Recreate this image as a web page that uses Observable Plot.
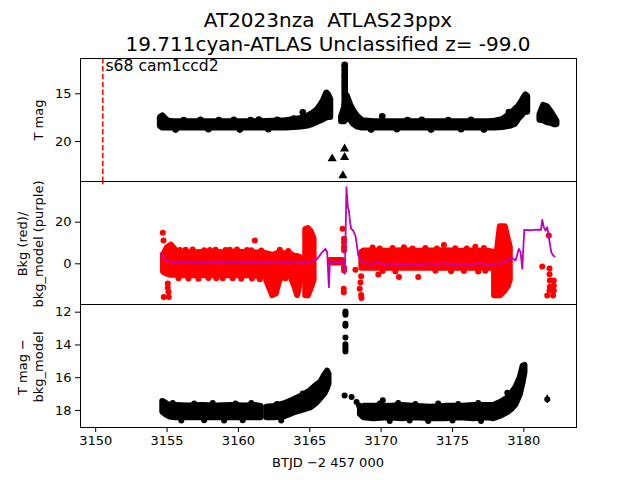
<!DOCTYPE html>
<html><head><meta charset="utf-8">
<script src="https://cdn.jsdelivr.net/npm/d3@7"></script>
<script src="https://cdn.jsdelivr.net/npm/@observablehq/plot@0.6"></script>
<style>
body{margin:0;background:#fff;}
#fig{position:relative;width:640px;height:480px;font-family:"DejaVu Sans",sans-serif;color:#000;overflow:hidden;background:#fff}
.pl{position:absolute;left:0}
.lab{position:absolute;white-space:pre;font-size:13px;line-height:15.6px;text-align:center;transform:translate(-50%,-50%) rotate(-90deg)}
#fig svg g[aria-label$="tick label"], #fig svg g[aria-label$="tick label"] text{font-size:13px !important;font-family:"DejaVu Sans",sans-serif}
</style></head><body>
<div id="fig">
<div style="position:absolute;left:0;width:656px;top:8px;text-align:center;font-size:20px;line-height:24px;white-space:pre">AT2023nza  ATLAS23ppx
19.711cyan-ATLAS Unclassified z= -99.0</div>
<div class="lab" style="left:38.5px;top:119.5px">T mag</div>
<div class="lab" style="left:30.7px;top:244px">Bkg (red)/
bkg_model (purple)</div>
<div class="lab" style="left:30.7px;top:367px">T mag −
bkg_model</div>
<div style="position:absolute;left:0;width:656px;top:454.7px;text-align:center;font-size:13px;line-height:15.6px;white-space:pre">BTJD −2 457 000</div>
<div id="p1" class="pl" style="top:48px"></div>
<div id="p2" class="pl" style="top:171px"></div>
<div id="p3" class="pl" style="top:294px"></div>
</div>
<script>
// ---------- data: top panel (T mag) ----------
const magA_x  = [3154.55,3154.7,3154.85,3155.1,3155.5,3156.5,3157.5,3158.5,3159.5,3160.5,3161.5,3162.5,3163.3,3163.9,3164.4,3164.85,3165.2,3165.55,3165.8,3166.0,3166.2,3166.3,3166.45];
const magA_hi = [17.5,17.35,17.6,17.9,17.95,17.95,17.95,17.95,17.95,17.95,17.95,17.9,17.85,17.75,17.6,17.4,17.1,16.7,16.2,15.65,14.95,15.1,15.6];
const magA_lo = [18.4,18.55,18.55,18.55,18.55,18.55,18.55,18.55,18.55,18.55,18.55,18.55,18.55,18.5,18.45,18.35,18.2,17.95,17.8,17.65,17.5,17.45,17.45];
const magB_x  = [3167.25,3167.45,3167.6,3167.85,3168.1,3168.35,3168.7,3169.5,3170.5,3171.5,3172.5,3173.5,3174.5,3175.5,3176.5,3177.5,3178.0,3178.5,3179.1,3179.4,3179.65,3179.85,3180.0,3180.15,3180.25];
const magB_hi = [17.4,16.5,15.2,16.2,16.9,17.4,17.85,17.95,17.95,17.95,17.95,17.95,17.95,17.95,17.95,17.95,17.9,17.75,17.1,16.7,16.35,15.9,15.5,15.15,15.3];
const magB_lo = [17.9,17.9,17.4,17.7,18.2,18.45,18.55,18.55,18.55,18.55,18.55,18.55,18.55,18.55,18.55,18.55,18.55,18.5,18.35,18.15,17.6,17.3,17.0,16.9,16.9];
const magC_x  = [3181.15,3181.4,3181.65,3181.9,3182.15,3182.3];
const magC_hi = [17.2,16.25,16.4,16.9,17.5,17.9];
const magC_lo = [17.75,17.8,18.0,18.05,18.2,18.2];
const magDot_x = [3167.45,3167.45,3167.45,3167.45,3167.45,3167.45,3167.45,3167.45,3167.45,3167.45,3167.45,3167.45,3167.45,3167.45,3167.45,3167.45,3167.45,3167.45,
  3154.77,3156.17,3157.34,3158.63,3159.68,3160.85,3161.43,3162.72,3163.88,3164.51,3170.08,3171.85,3172.85,3174.7,3176.3,3178.95,
  3155.6,3157.9,3160.1,3162.1,3169.3,3171.1,3173.5,3175.6,3177.2];
const magDot_y = [11.95,12.1,12.4,12.55,12.9,13.1,13.3,13.55,13.8,14.05,14.2,14.5,14.7,14.95,15.2,15.5,15.8,16.1,
  17.7,17.75,17.72,17.75,17.72,17.75,17.7,17.72,17.6,16.93,17.35,17.75,17.72,17.75,17.72,16.9,
  18.75,18.72,18.75,18.72,18.75,18.72,18.75,18.72,18.75];
const limit_x = [3166.57,3167.44,3167.44,3167.32];
const limit_y = [21.8,20.77,21.65,23.57];
const sectorText = "s68 cam1ccd2";
const discoveryDay = 3150.5;

// ---------- data: middle panel (background) ----------
const bkgA_x  = [3154.75,3155.0,3155.3,3155.6,3156.0,3157.0,3158.0,3159.0,3160.0,3161.0,3161.9,3162.15,3162.4,3162.65,3162.9,3163.2,3163.7,3163.95,3164.15,3164.35];
const bkgA_hi = [4.0,7.5,9.0,6.5,5.3,5.3,5.5,5.3,5.5,5.3,5.0,4.5,4.0,4.5,5.5,4.8,4.5,3.5,3.5,3.0];
const bkgA_lo = [-4.0,-5.0,-5.5,-5.5,-5.8,-5.6,-5.8,-5.6,-5.8,-5.8,-6.5,-11.0,-15.3,-14.5,-8.0,-6.0,-6.5,-11.0,-15.3,-9.0];
const bkgS1_x  = [3164.72,3164.9,3165.1,3165.3];
const bkgS1_hi = [16.5,17.0,15.5,12.0];
const bkgS1_lo = [-15.4,-15.4,-12.0,-8.0];
const bkgF_x  = [3166.45,3167.3];
const bkgF_hi = [1.6,1.6];
const bkgF_lo = [0.4,0.4];
const bkgB_x  = [3168.65,3168.8,3169.5,3170.5,3171.5,3172.5,3173.5,3174.5,3175.5,3176.5,3177.5,3177.95];
const bkgB_hi = [5.5,6.2,6.2,6.0,6.3,6.0,6.2,6.3,6.0,6.2,6.0,5.5];
const bkgB_lo = [-2.2,-2.2,-2.2,-2.0,-2.2,-2.0,-2.2,-2.2,-2.0,-2.2,-2.0,-2.2];
const bkgS2_x  = [3177.95,3178.15,3178.35,3178.7,3178.9,3179.05];
const bkgS2_hi = [5.5,6.0,17.8,17.8,12.0,8.0];
const bkgS2_lo = [-15.4,-15.4,-15.4,-13.0,-11.0,-8.0];
const bkgDot_x = [3154.7,3154.75,3154.77,3155.12,3155.05,3155.05,3155.1,3161.15,
  3156.3,3158.0,3159.4,3160.6,3157.2,3158.9,3160.2,
  3167.3,3167.4,3167.4,3167.4,3167.4,3167.4,3167.4,3167.38,3167.38,
  3168.2,3168.5,3168.6,3168.62,3168.55,3168.6,
  3169.4,3171.6,3174.4,3176.6,3169.8,3171.25,3172.6,
  3181.29,3181.75,3181.8,3181.8,3181.82,3181.82,3181.8,3181.64,3182.05,3182.1,3182.1,3182.1,
  3155.9,3156.8,3157.6,3158.4,3159.1,3159.9,3160.9,3161.6,3162.9,3163.5,
  3155.8,3156.5,3157.9,3158.45,3159.6,3160.95,3161.5,3163.3,
  3169.9,3170.8,3172.2,3173.1,3173.9,3175.2,3176.0,3177.2,
  3170.1,3171.0,3173.8,3174.9,3175.8,3176.8,3177.3];
const bkgDot_y = [14.9,11.2,-16.0,-16.0,-9.5,-11.5,-13.5,11.2,
  6.8,6.6,6.8,6.6,-7.2,-7.0,-7.2,
  16.8,12.0,10.4,8.2,6.5,-1.6,-3.2,-12.0,-13.7,
  -2.9,-12.0,-15.0,-16.5,-9.0,-6.0,
  7.8,8.0,9.0,8.2,-5.2,-6.3,-6.3,
  -1.3,13.6,-2.3,-5.0,-8.0,-11.0,-12.8,-15.2,-15.2,-8.0,-10.5,-12.8,
  6.6,6.9,6.5,6.8,6.6,6.9,6.5,6.4,6.8,6.2,
  -6.9,-7.1,-6.8,-7.0,-6.9,-7.1,-7.4,-7.0,
  7.4,7.6,7.3,7.6,7.4,7.5,7.3,7.6,
  -3.5,-3.7,-3.4,-3.6,-3.5,-3.7,-3.4];
const model_x = [3154.54,3154.73,3154.89,3155.3,3155.8,3156.4,3157.0,3157.6,3158.2,3158.8,3159.4,3160.0,3160.6,3161.2,3161.8,3162.3,3162.8,3163.4,3163.9,3164.4,3164.9,3165.3,3165.52,3165.87,3166.1,3166.22,3166.34,3166.41,3167.39,3167.46,3167.57,3167.67,3167.74,3167.81,3167.9,3168.04,3168.2,3168.3,3168.4,3168.56,3168.8,3169.3,3169.8,3170.3,3170.9,3171.4,3172.0,3172.6,3173.2,3173.8,3174.4,3175.0,3175.6,3176.2,3176.8,3177.4,3178.0,3178.5,3178.84,3179.19,3179.42,3179.65,3179.77,3179.89,3180.03,3180.5,3181.0,3181.2,3181.29,3181.4,3181.52,3181.64,3181.75,3181.92,3182.06,3182.15];
const model_y = [5.1,2.9,1.6,0.9,0.4,1.0,0.6,0.9,0.5,1.1,0.6,0.9,0.5,0.8,0.3,0.8,1.0,0.6,1.2,0.5,0.9,1.2,2.4,5.6,7.2,5.6,-11.2,0.8,0.8,-4.8,36.8,27.2,25.6,20.8,16.8,16.0,13.6,9.0,4.0,1.6,0.3,0.0,0.5,-0.4,0.2,-0.6,0.1,-0.3,0.2,-0.2,0.3,-0.3,0.1,-0.2,0.2,-0.1,0.0,0.2,1.6,2.8,1.6,7.2,5.6,-2.4,16.3,16.2,16.4,16.3,21.1,17.6,16.0,17.6,12.8,5.6,4.0,3.5];

// ---------- data: bottom panel (T mag - bkg_model) ----------
const difA_x  = [3154.7,3154.9,3155.2,3155.6,3156.5,3157.5,3158.5,3159.5,3160.5,3161.2,3161.6];
const difA_hi = [17.45,17.55,17.7,17.7,17.72,17.7,17.72,17.7,17.72,17.7,17.75];
const difA_lo = [18.1,18.25,18.4,18.45,18.45,18.45,18.45,18.45,18.45,18.45,18.45];
const difB_x  = [3162.0,3162.5,3163.2,3163.9,3164.5,3165.05,3165.5,3165.8,3166.05,3166.25,3166.35];
const difB_hi = [17.8,17.75,17.6,17.35,17.1,16.8,16.45,16.25,15.85,15.6,15.8];
const difB_lo = [18.45,18.45,18.4,18.15,18.0,17.85,17.55,17.25,17.0,16.65,16.4];
const difC_x  = [3168.55,3168.8,3169.5,3170.5,3171.5,3172.5,3173.5,3174.5,3175.5,3176.5,3177.5,3177.9,3178.4,3178.85,3179.2,3179.45,3179.75,3179.95,3180.08];
const difC_hi = [17.9,17.75,17.75,17.75,17.7,17.75,17.8,17.75,17.75,17.7,17.7,17.7,17.5,17.25,16.9,16.6,16.0,15.3,15.25];
const difC_lo = [18.25,18.45,18.5,18.45,18.5,18.45,18.5,18.5,18.45,18.5,18.45,18.5,18.35,18.15,17.9,17.65,17.05,16.3,15.7];
const difDot_x = [3167.5,3167.5,3167.5,3167.5,3167.5,3167.5,3167.5,3167.5,3167.5,3167.5,3167.44,3167.93,3168.28,3168.45,3164.51,3170.12,3178.84,3181.64,
  3155.4,3156.9,3158.2,3159.8,3160.9,3162.7,3169.9,3171.2,3172.4,3174.0,3175.4,3176.8,
  3156.0,3157.6,3159.0,3160.3,3163.0,3170.6,3172.0,3173.3,3175.0,3177.0];
const difDot_y = [11.95,12.05,12.15,12.7,12.82,13.55,13.95,14.1,14.25,14.4,17.08,17.18,17.49,17.7,16.97,17.38,16.92,17.32,
  17.55,17.58,17.55,17.57,17.55,17.6,17.58,17.55,17.6,17.57,17.6,17.55,
  18.62,18.6,18.62,18.6,18.62,18.65,18.62,18.65,18.62,18.65];
const difDot_err = [0.08,0.08,0.08,0.08,0.08,0.08,0.08,0.08,0.08,0.08,0.1,0.1,0.1,0.1,0.1,0.1,0.1,0.25,
  0.1,0.1,0.1,0.1,0.1,0.1,0.1,0.1,0.1,0.1,0.1,0.1,
  0.1,0.1,0.1,0.1,0.1,0.1,0.1,0.1,0.1,0.1];

// ---------- tick labels ----------
const xTicks = [3150,3155,3160,3165,3170,3175,3180];
const magTicks = [15,20];
const bkgTicks = [0,20];
const difTicks = [12,14,16,18];

// ---------- build ----------
const band = (xs, his, los, seg) => xs.map((x, i) => ({x, hi: his[i], lo: los[i], seg}));
const pts = (xs, ys) => xs.map((x, i) => ({x, y: ys[i]}));
const xDomain = [3148.935, 3183.69];
const baseStyle = {background: "transparent", overflow: "visible", fontFamily: "DejaVu Sans", fontSize: "13px", color: "black"};
const common = {width: 640, marginLeft: 80, marginRight: 64, marginTop: 10, style: baseStyle};
const yAxis = ticks => Plot.axisY({ticks, tickSize: 5, tickPadding: 4, label: null, fontSize: 13, tickFormat: d => String(d)});

const magBand = [...band(magA_x, magA_hi, magA_lo, "a"), ...band(magB_x, magB_hi, magB_lo, "b"), ...band(magC_x, magC_hi, magC_lo, "c")];
const p1 = Plot.plot({
  ...common, height: 143, marginBottom: 10,
  x: {domain: xDomain, axis: null},
  y: {domain: [11.30, 24.19], reverse: true},
  marks: [
    Plot.ruleX([discoveryDay], {stroke: "red", strokeWidth: 1.5, strokeDasharray: "5.5,2.4"}),
    Plot.areaY(magBand, {x: "x", y1: "lo", y2: "hi", z: "seg", fill: "black", stroke: "black", strokeWidth: 6.6, strokeLinejoin: "round"}),
    Plot.dot(pts(magDot_x, magDot_y), {x: "x", y: "y", r: 3.3, fill: "black"}),
    Plot.dot(pts(limit_x, limit_y), {x: "x", y: "y", r: 3.4, symbol: "triangle", fill: "black"}),
    Plot.text([sectorText], {frameAnchor: "top-left", dx: 25, dy: 12, lineAnchor: "bottom", textAnchor: "start", fontSize: 15.6, fill: "black"}),
    yAxis(magTicks),
    Plot.frame({stroke: "black"})
  ]
});
document.getElementById("p1").append(p1);

const bkgBand = [...band(bkgA_x, bkgA_hi, bkgA_lo, "a"), ...band(bkgS1_x, bkgS1_hi, bkgS1_lo, "s1"), ...band(bkgF_x, bkgF_hi, bkgF_lo, "f"),
  ...band(bkgB_x, bkgB_hi, bkgB_lo, "b"), ...band(bkgS2_x, bkgS2_hi, bkgS2_lo, "s2")];
const p2 = Plot.plot({
  ...common, height: 143, marginBottom: 10,
  x: {domain: xDomain, axis: null},
  y: {domain: [-19.57, 39.57]},
  marks: [
    Plot.ruleX([discoveryDay], {y1: 38, y2: 39.57, stroke: "red", strokeWidth: 1.5}),
    Plot.areaY(bkgBand, {x: "x", y1: "lo", y2: "hi", z: "seg", fill: "red", stroke: "red", strokeWidth: 6, strokeLinejoin: "round"}),
    Plot.dot(pts(bkgDot_x, bkgDot_y), {x: "x", y: "y", r: 3, fill: "red"}),
    Plot.line(pts(model_x, model_y), {x: "x", y: "y", stroke: "#bf00bf", strokeWidth: 1.8, clip: true}),
    yAxis(bkgTicks),
    Plot.frame({stroke: "black"})
  ]
});
document.getElementById("p2").append(p2);

const difBand = [...band(difA_x, difA_hi, difA_lo, "a"), ...band(difB_x, difB_hi, difB_lo, "b"), ...band(difC_x, difC_hi, difC_lo, "c")];
const difDots = difDot_x.map((x, i) => ({x, y: difDot_y[i], e: difDot_err[i]}));
const p3 = Plot.plot({
  ...common, height: 186, marginBottom: 53,
  x: {domain: xDomain},
  y: {domain: [11.53, 19.04], reverse: true},
  marks: [
    Plot.areaY(difBand, {x: "x", y1: "lo", y2: "hi", z: "seg", fill: "black", stroke: "black", strokeWidth: 6, strokeLinejoin: "round"}),
    Plot.ruleX(difDots, {x: "x", y1: d => d.y - d.e, y2: d => d.y + d.e, stroke: "black", strokeWidth: 1.5}),
    Plot.dot(difDots, {x: "x", y: "y", r: 3, fill: "black"}),
    yAxis(difTicks),
    Plot.axisX({ticks: xTicks, tickSize: 5, tickPadding: 3, label: null, fontSize: 13, tickFormat: d => String(d)}),
    Plot.frame({stroke: "black"})
  ]
});
document.getElementById("p3").append(p3);
</script>
</body></html>
